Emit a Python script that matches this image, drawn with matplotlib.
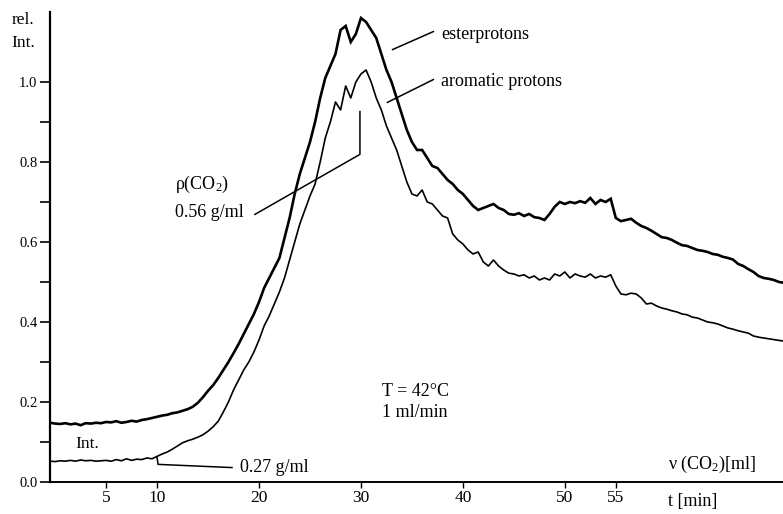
import matplotlib
matplotlib.use("Agg")
import matplotlib.pyplot as plt
import numpy as np

plt.rcParams["font.family"] = ["Liberation Serif", "DejaVu Serif"]
plt.rcParams["mathtext.fontset"] = "custom"
plt.rcParams["mathtext.rm"] = "Liberation Serif"
plt.rcParams["mathtext.default"] = "rm"

# time axis, sampled every 0.5 min
t_min = np.arange(-0.5, 71.5 + 0.01, 0.5)

# esterprotons (upper, thick trace)
ester = [
    0.148,
    0.146, 0.145, 0.147, 0.144, 0.146, 0.142, 0.147, 0.146, 0.148, 0.147,   # 0-4.5
    0.150, 0.149, 0.152, 0.148, 0.150, 0.153, 0.151, 0.155, 0.157, 0.160,   # 5-9.5
    0.163, 0.166, 0.168, 0.172, 0.174, 0.178, 0.182, 0.188, 0.198, 0.212,   # 10-14.5
    0.228, 0.242, 0.260, 0.280, 0.300, 0.322, 0.345, 0.370, 0.395, 0.420,   # 15-19.5
    0.450, 0.485, 0.510, 0.535, 0.560, 0.610, 0.660, 0.720, 0.770, 0.810,   # 20-24.5
    0.850, 0.900, 0.960, 1.010, 1.040, 1.070, 1.130, 1.140, 1.100, 1.120,   # 25-29.5
    1.160, 1.150, 1.130, 1.110, 1.070, 1.030, 1.000, 0.960, 0.920, 0.880,   # 30-34.5
    0.850, 0.830, 0.830, 0.810, 0.790, 0.785, 0.770, 0.755, 0.745, 0.730,   # 35-39.5
    0.720, 0.705, 0.690, 0.680, 0.685, 0.690, 0.695, 0.685, 0.680, 0.670,   # 40-44.5
    0.668, 0.672, 0.665, 0.670, 0.662, 0.660, 0.655, 0.670, 0.688, 0.700,   # 45-49.5
    0.695, 0.700, 0.697, 0.702, 0.698, 0.710, 0.695, 0.705, 0.700, 0.708,   # 50-54.5
    0.660, 0.652, 0.655, 0.658, 0.648, 0.640, 0.635, 0.628, 0.620, 0.612,   # 55-59.5
    0.610, 0.605, 0.598, 0.592, 0.590, 0.585, 0.580, 0.578, 0.575, 0.570,   # 60-64.5
    0.568, 0.563, 0.560, 0.556, 0.545, 0.540, 0.532, 0.525, 0.515, 0.510,   # 65-69.5
    0.508, 0.505, 0.500, 0.498,                                             # 70-71.5
]

# aromatic protons (lower, thin trace)
aromatic = [
    0.052,
    0.051, 0.053, 0.052, 0.054, 0.052, 0.055, 0.053, 0.054, 0.052, 0.053,   # 0-4.5
    0.054, 0.052, 0.056, 0.053, 0.058, 0.054, 0.057, 0.056, 0.060, 0.058,   # 5-9.5
    0.064, 0.070, 0.075, 0.082, 0.090, 0.098, 0.103, 0.107, 0.112, 0.118,   # 10-14.5
    0.127, 0.138, 0.152, 0.175, 0.200, 0.230, 0.255, 0.280, 0.300, 0.325,   # 15-19.5
    0.355, 0.390, 0.415, 0.445, 0.475, 0.510, 0.555, 0.600, 0.645, 0.680,   # 20-24.5
    0.715, 0.745, 0.800, 0.860, 0.900, 0.950, 0.930, 0.990, 0.960, 1.000,   # 25-29.5
    1.020, 1.030, 1.000, 0.960, 0.930, 0.890, 0.860, 0.830, 0.790, 0.750,   # 30-34.5
    0.720, 0.715, 0.730, 0.700, 0.695, 0.680, 0.665, 0.660, 0.620, 0.605,   # 35-39.5
    0.595, 0.580, 0.570, 0.575, 0.550, 0.540, 0.555, 0.540, 0.530, 0.522,   # 40-44.5
    0.520, 0.515, 0.518, 0.510, 0.515, 0.505, 0.510, 0.505, 0.520, 0.515,   # 45-49.5
    0.525, 0.510, 0.520, 0.515, 0.512, 0.520, 0.510, 0.515, 0.512, 0.518,   # 50-54.5
    0.490, 0.470, 0.468, 0.472, 0.470, 0.460, 0.445, 0.447, 0.440, 0.435,   # 55-59.5
    0.432, 0.428, 0.425, 0.420, 0.418, 0.412, 0.410, 0.405, 0.400, 0.398,   # 60-64.5
    0.395, 0.390, 0.385, 0.382, 0.378, 0.375, 0.372, 0.365, 0.362, 0.360,   # 65-69.5
    0.358, 0.356, 0.354, 0.352,                                             # 70-71.5
]

x_ticks = [5, 10, 20, 30, 40, 50, 55]
y_ticks = [0.0, 0.2, 0.4, 0.6, 0.8, 1.0]
y_minor = [0.1, 0.3, 0.5, 0.7, 0.9]

fig = plt.figure(figsize=(7.83, 5.14), dpi=100)
ax = fig.add_axes([0.0639, 0.0623, 0.9361, 0.9144])

ax.plot(t_min, ester, color="black", lw=1.9, solid_joinstyle="miter")
ax.plot(t_min, aromatic, color="black", lw=1.2)

ax.set_xlim(-0.5, 71.4)
ax.set_ylim(0, 1.175)
for side in ("top", "right"):
    ax.spines[side].set_visible(False)
ax.spines["left"].set_linewidth(1.6)
ax.spines["bottom"].set_linewidth(1.4)

ax.set_xticks(x_ticks)
ax.set_xticklabels([str(v) for v in x_ticks], fontsize=12.5)
ax.set_yticks(y_ticks)
ax.set_yticklabels([f"{v:.1f}" for v in y_ticks], fontsize=10.5)
ax.set_yticks(y_minor, minor=True)
ax.tick_params(axis="y", which="both", length=7, width=1.2, pad=2)
ax.tick_params(axis="x", length=4, width=1.0, pad=2)

# axis captions
fig.text(0.015, 0.961, "rel.", fontsize=12.5, va="center")
fig.text(0.015, 0.916, "Int.", fontsize=12.5, va="center")
ax.text(60.1, -0.049, "t [min]", fontsize=13, va="center", clip_on=False)
ax.text(60.1, 0.044, "ν (CO$_2$)[ml]", fontsize=13, va="center")

# curve labels with leader lines
ax.plot([33.1, 37.1], [1.081, 1.126], color="black", lw=1.1)
ax.text(37.9, 1.119, "esterprotons", fontsize=13, va="center")
ax.plot([32.6, 37.1], [0.949, 1.006], color="black", lw=1.1)
ax.text(37.9, 1.001, "aromatic protons", fontsize=13, va="center")

# density markers
ax.plot([19.6, 29.9, 29.9], [0.669, 0.819, 0.926], color="black", lw=1.1)
ax.text(11.8, 0.744, "ρ(CO$_2$)", fontsize=13, va="center")
ax.text(11.8, 0.674, "0.56 g/ml", fontsize=13, va="center")
ax.plot([10.0, 10.1, 17.35], [0.061, 0.044, 0.036], color="black", lw=1.1)
ax.text(18.1, 0.036, "0.27 g/ml", fontsize=13, va="center")
ax.text(2.0, 0.094, "Int.", fontsize=12.5, va="center")

ax.text(32.1, 0.226, "T = 42°C", fontsize=13, va="center")
ax.text(32.1, 0.174, "1 ml/min", fontsize=13, va="center")

fig.savefig("out.png", dpi=100)
plt.close(fig)
